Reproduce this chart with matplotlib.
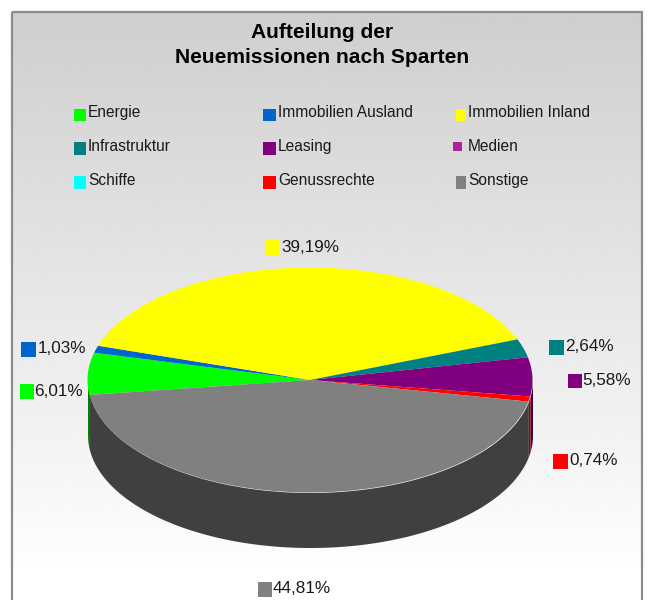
import numpy as np
import matplotlib
matplotlib.use("Agg")
import matplotlib.pyplot as plt
from matplotlib.patches import Rectangle

plt.rcParams['font.family'] = ['Liberation Sans', 'DejaVu Sans']

categories = ["Energie", "Immobilien Ausland", "Immobilien Inland", "Infrastruktur",
              "Leasing", "Medien", "Schiffe", "Genussrechte", "Sonstige"]
values = [6.01, 1.03, 39.19, 2.64, 5.58, 0.0, 0.0, 0.74, 44.81]
value_labels = ["6,01%", "1,03%", "39,19%", "2,64%", "5,58%", "", "", "0,74%", "44,81%"]
colors = ["#00ff00", "#0066cc", "#ffff00", "#008080", "#800080", "#b0209a", "#00ffff", "#ff0000", "#808080"]
side_colors = ["#008000", "#003366", "#808000", "#004040", "#400040", "#581050", "#008080", "#a00000", "#404040"]
title = "Aufteilung der\nNeuemissionen nach Sparten"

W, H = 648, 600
fig = plt.figure(figsize=(W / 100, H / 100), dpi=100, facecolor="white")

# background axes in pixel coordinates
bg = fig.add_axes([0, 0, 1, 1])
bg.set_xlim(0, W)
bg.set_ylim(H, 0)
bg.axis("off")
PL, PR, PT, PB = 12, 642, 12, 640
grad = np.linspace(0.81, 1.02, 256).clip(0, 1).reshape(-1, 1)
bg.imshow(grad, cmap="gray", vmin=0, vmax=1, extent=(PL, PR, PB, PT), aspect="auto", zorder=0)
bg.set_xlim(0, W)
bg.set_ylim(H, 0)
bg.add_patch(Rectangle((PL, PT), PR - PL, PB - PT, fill=False, ec="#8c8c8c", lw=1.6, zorder=1))

bg.text(322, 45, title, ha="center", va="center", fontsize=15.1, fontweight="bold",
        color="#000000", linespacing=1.37, zorder=5)

# legend
legend_boxes = [(74, 86, 109, 121), (263, 276, 109, 121), (456, 466, 109, 121),
                (74, 86, 142, 155), (263, 276, 142, 155), (453, 462, 142, 151),
                (74, 86, 176, 189), (263, 276, 176, 189), (456, 466, 176, 189)]
legend_text_x = [88, 278, 468]
legend_text_y = [117, 151, 185]
for i, (name, col, box) in enumerate(zip(categories, colors, legend_boxes)):
    x0, x1, y0, y1 = box
    bg.add_patch(Rectangle((x0, y0), x1 - x0, y1 - y0, fc=col, ec="none", zorder=3))
    bg.text(legend_text_x[i % 3], legend_text_y[i // 3], name, ha="left", va="baseline",
            fontsize=11.2, color="#1a1a1a", zorder=5)

# data labels with swatches: (swatch x0, x1, y0, y1, text x, text baseline y)
label_pos = {0: (20, 34, 384, 399, 34, 396), 1: (21, 36, 342, 357, 38, 353),
             2: (266, 279, 240, 255, 281, 252), 3: (549, 564, 340, 355, 565, 351),
             4: (568, 582, 374, 388, 582, 385), 7: (553, 568, 454, 469, 569, 465),
             8: (258, 272, 582, 597, 273, 593)}
for i, (x0, x1, y0, y1, tx, ty) in label_pos.items():
    bg.add_patch(Rectangle((x0, y0), x1 - x0, y1 - y0, fc=colors[i], ec="none", zorder=3))
    bg.text(tx, ty, value_labels[i], ha="left", va="baseline", fontsize=12.3, color="#1a1a1a", zorder=5)

# pie axes: x -1..1 spans the ellipse width, y covers top face plus wall depth
cx, rx, cy, ry, depth_px = 310, 222.5, 380, 112.5, 55
depth = depth_px / ry
ax = fig.add_axes([(cx - rx) / W, 1 - (cy + ry + depth_px) / H, 2 * rx / W, (2 * ry + depth_px) / H])
ax.patch.set_alpha(0)
start = 187.6
ax.pie(values, colors=colors, startangle=start, counterclock=False, radius=1,
       wedgeprops={"linewidth": 0}, normalize=True)
for w in ax.patches:
    w.set_zorder(4)
ax.set_aspect("auto")
ax.set_xlim(-1, 1)
ax.set_ylim(-1 - depth, 1)

# side walls from the same shares
total = sum(values)
a = start
for v, sc in zip(values, side_colors):
    b = a - 360 * v / total
    lo, hi = b % 360, (b % 360) + (a - b)
    if v > 0:
        for shift in (0, 360):
            t0, t1 = max(lo - shift, 180), min(hi - shift, 360)
            if t1 > t0:
                th = np.radians(np.linspace(t0, t1, 120))
                ax.fill_between(np.cos(th), np.sin(th), np.sin(th) - depth,
                                color=sc, lw=0, zorder=2)
    a = b

fig.savefig("out.png", dpi=100, facecolor="white")
